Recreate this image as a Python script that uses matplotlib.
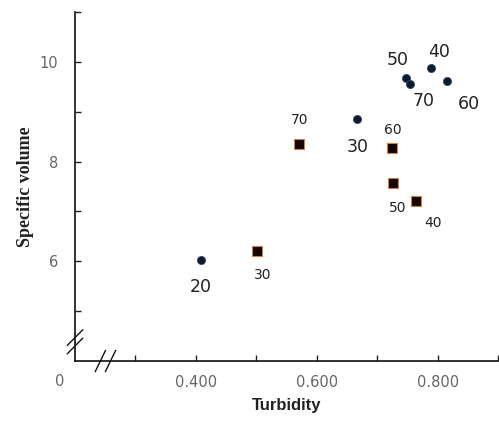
import matplotlib
matplotlib.use("Agg")
import matplotlib.pyplot as plt

# series 1 (circles)
circ_x = [0.408, 0.667, 0.789, 0.747, 0.816, 0.754]
circ_y = [6.03, 8.85, 9.87, 9.67, 9.61, 9.55]
circ_lab = ["20", "30", "40", "50", "60", "70"]
circ_off = [(0, -27), (0, -28), (8, 16), (-8, 18), (22, -23), (14, -17)]

# series 2 (squares)
sq_x = [0.501, 0.764, 0.727, 0.724, 0.570]
sq_y = [6.20, 7.21, 7.57, 8.27, 8.35]
sq_lab = ["30", "40", "50", "60", "70"]
sq_off = [(6, -24), (17, -22), (4, -25), (1, 18), (1, 24)]

W, H = 499, 426
fig = plt.figure(figsize=(W / 100, H / 100), dpi=100)
ax = fig.add_axes([75 / W, (H - 361) / H, 423 / W, 349 / H])

ax.scatter(circ_x, circ_y, s=34, marker="o", color="#0b1a30",
           edgecolors="#3a4a60", linewidths=0.6, zorder=3)
ax.scatter(sq_x, sq_y, s=42, marker="s", color="#140404",
           edgecolors="#c8824a", linewidths=0.8, zorder=3)

for x, y, t, (dx, dy) in zip(circ_x, circ_y, circ_lab, circ_off):
    ax.annotate(t, (x, y), xytext=(dx, dy), textcoords="offset pixels",
                ha="center", va="center", fontsize=12.5, color="#222222",
                family="DejaVu Sans")
for x, y, t, (dx, dy) in zip(sq_x, sq_y, sq_lab, sq_off):
    ax.annotate(t, (x, y), xytext=(dx, dy), textcoords="offset pixels",
                ha="center", va="center", fontsize=10, color="#222222",
                family="DejaVu Sans")

ax.set_xlim(0.2, 0.9)
ax.set_ylim(4, 11)
ax.set_xticks([0.4, 0.6, 0.8])
ax.set_xticklabels(["0.400", "0.600", "0.800"])
ax.set_xticks([0.3, 0.5, 0.7, 0.9], minor=True)
ax.set_yticks([6, 8, 10])
ax.set_yticks([5, 7, 9, 11], minor=True)
ax.tick_params(which="both", direction="in", length=4, width=1,
               colors="#222222", labelcolor="#666666", labelsize=10.5)
ax.tick_params(axis="x", pad=10)
ax.tick_params(axis="y", pad=12)
for s in ["top", "right"]:
    ax.spines[s].set_visible(False)
for s in ["left", "bottom"]:
    ax.spines[s].set_linewidth(1.2)
    ax.spines[s].set_color("#111111")

# the "0" at the origin
ax.text(-0.037, -0.058, "0", transform=ax.transAxes, ha="center", va="center",
        fontsize=10.5, color="#666666")

# axis break marks
kw = dict(color="#111111", lw=1.0, clip_on=False, transform=ax.transAxes)
for d in (-0.012, 0.012):
    yb = 0.055 + d
    ax.plot([-0.018, 0.018], [yb - 0.022, yb + 0.022], **kw)
    xb = 0.072 + d
    ax.plot([xb - 0.012, xb + 0.012], [-0.03, 0.03], **kw)

ax.set_xlabel("Turbidity", fontsize=12, fontweight="bold", family="Liberation Sans",
              color="#222222", labelpad=6)
ax.set_ylabel("Specific volume", fontsize=13, fontweight="bold",
              family="Liberation Serif", color="#222222", labelpad=4)

fig.savefig("out.png", dpi=100)
